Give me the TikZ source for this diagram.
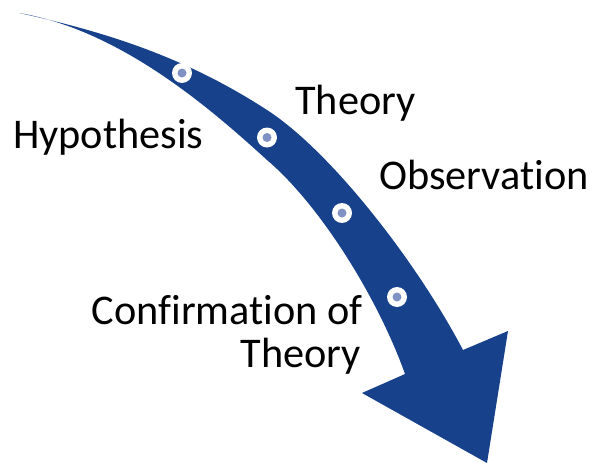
\documentclass[tikz,border=0pt]{standalone}
\usepackage{fontspec}
\setmainfont[Ligatures={NoCommon}]{Carlito}
\definecolor{arrowblue}{RGB}{23,65,139}
\definecolor{dotblue}{RGB}{128,145,195}
\begin{document}
\begin{tikzpicture}[x=1pt,y=-1pt,
  lbl/.style={inner sep=0pt,font=\fontsize{42.3}{46}\selectfont},
  ring/.style={circle,fill=white,minimum size=20pt,inner sep=0pt},
  core/.style={circle,fill=dotblue,minimum size=9pt,inner sep=0pt}]
\useasboundingbox (0,0) rectangle (595,463);
% arrow body
\coordinate (tail) at (19,13);
\coordinate (um) at (267,110);
\coordinate (rs) at (463,350);
\coordinate (rc) at (508,331);
\coordinate (tip) at (487,463);
\coordinate (lc) at (362,393);
\coordinate (ls) at (405,374);
\coordinate (lm) at (267,160);
\fill[arrowblue]
  (tail) .. controls (102,31) and (184,56) .. (um)
         .. controls (332,152) and (418,264) .. (rs)
  -- (rc) -- (tip) -- (lc) -- (ls)
         .. controls (378,298) and (320,205) .. (lm)
         .. controls (210,108) and (120,30) .. (tail)
  -- cycle;
% dots
\foreach \n/\p in {1/{(182,73)},2/{(267,137.5)},3/{(342,213)},4/{(397,297)}}{
  \node[ring] (r\n) at \p {};
  \node[core] (c\n) at (r\n) {};
}
% labels
\node[lbl,anchor=base west] (hyp) at (13,148) {Hypothesis};
\node[lbl,anchor=base west] (theo) at (295,114) {Theory};
\node[lbl,anchor=base west] (obs) at (379,189) {Observation};
\node[lbl,anchor=base east] (conf) at (363,324) {Confirmation of};
\node[lbl,anchor=base east] (conf2) at (361,367) {Theory};
\end{tikzpicture}
\end{document}
